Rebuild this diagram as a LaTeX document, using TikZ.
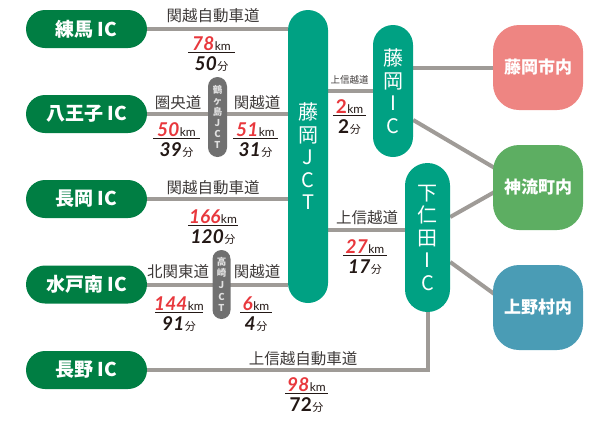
\documentclass[tikz,border=0pt]{standalone}
\usepackage{fontspec}
\setmainfont{Noto Sans CJK JP}
\newfontfamily\numf{Lato}
\usetikzlibrary{backgrounds}
\definecolor{icg}{HTML}{007E43}
\definecolor{jctg}{HTML}{00A183}
\definecolor{roadg}{HTML}{9F9B97}
\definecolor{pinkc}{HTML}{EE8582}
\definecolor{kannac}{HTML}{5DAE62}
\definecolor{uenoc}{HTML}{4A9CB5}
\definecolor{smallg}{HTML}{707070}
\definecolor{kred}{HTML}{E8383D}
\definecolor{txt}{HTML}{3E3A39}
\definecolor{dark}{HTML}{231815}
\newcommand\fs[1]{\fontsize{#1}{#1}\selectfont}
\tikzset{
 icpill/.style={rectangle, rounded corners=19pt, fill=icg, minimum width=121pt, minimum height=38pt, inner sep=0pt, text=white, font=\bfseries\fs{19}},
 vpill/.style={rectangle, fill=jctg, inner sep=0pt, text=white, align=center, font=\fontsize{20}{22.5}\selectfont},
 dest/.style={rectangle, rounded corners=26pt, minimum width=90pt, minimum height=85pt, inner sep=0pt, text=white, font=\bfseries\fs{17}},
 spill/.style={rectangle, fill=smallg, text=white!88!black, inner sep=0pt, align=center},
 road/.style={draw=roadg, line width=4pt},
 rname/.style={text=txt, font=\fs{15.5}, inner sep=0pt},
 kmtop/.style={anchor=base, inner sep=0pt, text=dark},
 fracline/.style={draw=dark, line width=0.8pt},
}
\newcommand\dist[7][\itshape]{%
 \node[kmtop] (#2k) at (#3,#4-2) {{\numf\bfseries\itshape\fs{19}\color{kred}#5}\kern0.5pt{\numf\fs{12}km}};
 \node[kmtop] (#2m) at (#3,#4+18) {{\numf\bfseries#1\fs{19}#6}\kern0.5pt{\fs{11}分}};
 \draw[fracline] (#3-#7,#4) -- (#3+#7,#4);
}
\begin{document}
\begin{tikzpicture}[x=1pt,y=-1pt]
\useasboundingbox (0,0) rectangle (614,424);
\node[icpill] (nerima) at (86.5,29) {練馬 IC};
\node[icpill] (hachi) at (86.5,114) {八王子 IC};
\node[icpill] (nagaoka) at (86.5,199) {長岡 IC};
\node[icpill] (mito) at (86.5,284.5) {水戸南 IC};
\node[icpill] (nagano) at (86.5,370) {長野 IC};
\node[vpill, minimum width=40pt, minimum height=293pt, rounded corners=20pt] (jct) at (308,156.5) {藤\\岡\\J\\C\\T};
\node[vpill, minimum width=40pt, minimum height=132pt, rounded corners=20pt] (fic) at (393,91) {藤\\岡\\I\\C};
\node[vpill, minimum width=45pt, minimum height=149pt, rounded corners=22.5pt] (sic) at (427.5,237.5) {下\\仁\\田\\I\\C};
\node[dest, fill=pinkc] (fcity) at (538,67.5) {藤岡市内};
\node[dest, fill=kannac] (kanna) at (538,187.5) {神流町内};
\node[dest, fill=uenoc] (ueno) at (538,307.5) {上野村内};
\node[spill, minimum width=19pt, minimum height=80pt, rounded corners=9.5pt, font=\bfseries\fontsize{9.5}{10.9}\selectfont] (tsuru) at (217.5,117) {鶴\\ヶ\\島\\J\\C\\T};
\node[spill, minimum width=18pt, minimum height=69pt, rounded corners=9pt, font=\bfseries\fontsize{9.5}{11.6}\selectfont] (taka) at (221.5,284.5) {高\\崎\\J\\C\\T};
\begin{scope}[on background layer]
\draw[road] (nerima.east) -- (nerima.east -| jct.west);
\draw[road] (hachi.east) -- (hachi.east -| jct.west);
\draw[road] (nagaoka.east) -- (nagaoka.east -| jct.west);
\draw[road] (mito.east) -- (mito.east -| jct.west);
\draw[road] (nagano.east) -| (sic.south);
\coordinate (a1) at ([yshift=7.5pt]sic.west);
\draw[road] (a1 -| jct.east) -- (a1);
\draw[road] (fic.west -| jct.east) -- (fic.west);
\coordinate (a2) at ([yshift=23pt]fic.east);
\draw[road] (a2) -- (a2 -| fcity.west);
\draw[road] ([yshift=-29pt]fic.east) -- ([xshift=7pt,yshift=16.5pt]kanna.west);
\draw[road] ([yshift=20.5pt]sic.east) -- ([xshift=7pt,yshift=-1.5pt]kanna.west);
\draw[road] ([yshift=-24.5pt]sic.east) -- ([xshift=7pt,yshift=9.5pt]ueno.west);
\end{scope}
\node[rname] (l1) at (213,16) {関越自動車道};
\node[rname] (l2) at (178,102.5) {圏央道};
\node[rname] (l3) at (257,102.5) {関越道};
\node[rname] (l4) at (213,187.5) {関越自動車道};
\node[rname] (l5) at (178,272) {北関東道};
\node[rname] (l6) at (257,272) {関越道};
\node[rname] (l7) at (303,358.5) {上信越自動車道};
\node[rname, font=\fs{9.5}] (l8) at (349.5,80) {上信越道};
\node[rname] (l9) at (367,218) {上信越道};
\dist{d1}{211.5}{52}{78}{50}{23.5}
\dist{d2}{176.5}{138}{50}{39}{23.5}
\dist{d3}{255.5}{138}{51}{31}{22.5}
\dist{d4}{213}{225}{166}{120}{25}
\dist{d5}{179}{312}{144}{91}{24}
\dist{d6}{256}{312}{6}{4}{16}
\dist[\upshape]{d7}{306.5}{393}{98}{72}{21.5}
\dist[\upshape]{d8}{349.5}{115}{\upshape 2}{2}{16.5}
\dist{d9}{365}{255}{27}{17}{22}
\end{tikzpicture}
\end{document}
